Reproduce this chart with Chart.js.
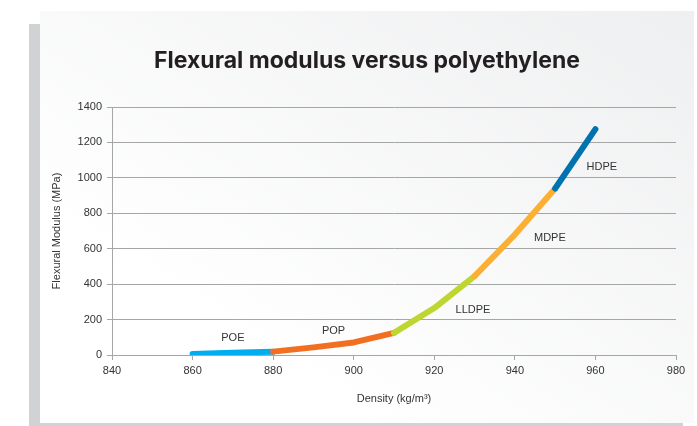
<!DOCTYPE html>
<html>
<head>
<meta charset="utf-8">
<script src="https://cdn.jsdelivr.net/npm/chart.js@4.4.0/dist/chart.umd.min.js"></script>
<style>
    html, body { margin: 0; padding: 0; background: #fff; width: 697px; height: 426px; overflow: hidden; }
    .strip { position: absolute; left: 29px; top: 24px; width: 11px; height: 402px; background: #d1d2d4; }
    .bottom { position: absolute; left: 29px; top: 423px; width: 654px; height: 3px; background: #d1d2d4; }
    .panel { position: absolute; left: 40px; top: 11px; width: 654px; height: 412px;
             background: linear-gradient(to top right, #ffffff 25%, #eeeff0 100%); }
    #chart { position: absolute; left: 40px; top: 0; }
</style>
</head>
<body>
<div class="panel"></div>
<div class="strip"></div>
<div class="bottom"></div>
<canvas id="chart" width="654" height="426"></canvas>
<script>
// Density (kg/m3) and flexural modulus (MPa) per polyethylene family
const poeX = [860, 870, 880];
const poeY = [6, 13, 19];
const popX = [880, 890, 900, 910];
const popY = [19, 43, 71, 125];
const lldpeX = [910, 920, 930];
const lldpeY = [125, 265, 445];
const mdpeX = [930, 940, 950];
const mdpeY = [445, 680, 940];
const hdpeX = [950, 960];
const hdpeY = [940, 1275];

// family labels placed in data space
const labelNames = ['POE', 'POP', 'LLDPE', 'MDPE', 'HDPE'];
const labelX = [870, 895, 929.6, 948.7, 961.6];
const labelY = [96, 136, 254, 661, 1062];

const xTicks = [840, 860, 880, 900, 920, 940, 960, 980];
const yTicks = [0, 200, 400, 600, 800, 1000, 1200, 1400];

function toPoints(xs, ys) {
    return xs.map((x, i) => ({ x: x, y: ys[i] }));
}

function series(label, xs, ys, color, order) {
    return {
        label: label,
        data: toPoints(xs, ys),
        borderColor: color,
        backgroundColor: color,
        borderWidth: 6,
        borderCapStyle: 'round',
        borderJoinStyle: 'round',
        pointRadius: 0,
        showLine: true,
        tension: 0,
        order: order
    };
}

const segmentLabels = {
    id: 'segmentLabels',
    afterDatasetsDraw(chart) {
        const { ctx, scales: { x, y } } = chart;
        ctx.save();
        ctx.font = '11px "Liberation Sans", Arial, sans-serif';
        ctx.fillStyle = '#333333';
        ctx.textAlign = 'center';
        ctx.textBaseline = 'middle';
        labelNames.forEach((name, i) => {
            ctx.fillText(name, x.getPixelForValue(labelX[i]), y.getPixelForValue(labelY[i]));
        });
        ctx.restore();
    }
};

const tickFont = { family: '"Liberation Sans", Arial, sans-serif', size: 11 };
const gridColor = '#a6a6a6';

new Chart(document.getElementById('chart'), {
    type: 'scatter',
    data: {
        datasets: [
            series('POE', poeX, poeY, '#00aeef', 5),
            series('POP', popX, popY, '#f26f21', 4),
            series('LLDPE', lldpeX, lldpeY, '#bfd630', 3),
            series('MDPE', mdpeX, mdpeY, '#fbb034', 2),
            series('HDPE', hdpeX, hdpeY, '#0072b0', 1)
        ]
    },
    options: {
        responsive: false,
        animation: false,
        // symmetric side padding keeps the title centred on the panel
        layout: { padding: { left: 18, right: 18, top: 0, bottom: 0 } },
        plugins: {
            legend: { display: false },
            tooltip: { enabled: false },
            title: {
                display: true,
                text: 'Flexural modulus versus polyethylene',
                color: '#231f20',
                font: { family: 'Inter', size: 23, weight: '700' },
                padding: { top: 47, bottom: 32.4 }
            }
        },
        scales: {
            x: {
                type: 'linear',
                min: 840,
                max: 980,
                afterBuildTicks: (scale) => { scale.ticks = xTicks.map(v => ({ value: v })); },
                afterFit: (scale) => { scale.height = 71; },
                ticks: { color: '#333333', font: tickFont, padding: 4, callback: (v) => String(v) },
                grid: { drawOnChartArea: false, color: gridColor, tickLength: 5 },
                border: { color: gridColor },
                title: {
                    display: true,
                    text: 'Density (kg/m³)',
                    color: '#333333',
                    font: { family: '"Liberation Sans", Arial, sans-serif', size: 11 },
                    padding: { top: 0, bottom: 20 }
                }
            },
            y: {
                type: 'linear',
                min: 0,
                max: 1400,
                afterBuildTicks: (scale) => { scale.ticks = yTicks.map(v => ({ value: v })); },
                afterFit: (scale) => { scale.width = 54; },
                ticks: { color: '#333333', font: tickFont, padding: 5, callback: (v) => String(v) },
                grid: { color: gridColor, tickLength: 5 },
                border: { color: gridColor },
                title: {
                    display: true,
                    text: 'Flexural Modulus (MPa)',
                    color: '#333333',
                    font: { family: '"Liberation Sans", Arial, sans-serif', size: 11 },
                    padding: { top: -8, bottom: 0 }
                }
            }
        }
    },
    plugins: [segmentLabels]
});
</script>
</body>
</html>
